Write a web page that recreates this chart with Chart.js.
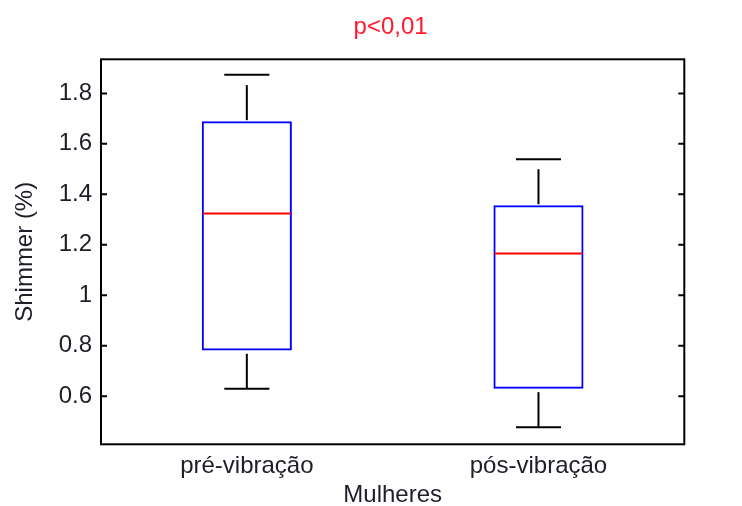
<!DOCTYPE html>
<html>
<head>
<meta charset="utf-8">
<script src="https://cdn.jsdelivr.net/npm/chart.js@4/dist/chart.umd.min.js"></script>
<style>
  html, body { margin: 0; padding: 0; background: #ffffff; }
  #wrap { width: 742px; height: 506px; }
</style>
</head>
<body>
<div id="wrap"><canvas id="c" width="742" height="506"></canvas></div>
<script>
// Shimmer (%) before and after vibration, women
const categories = ['pré-vibração', 'pós-vibração'];
const lowerQuartile = [0.782, 0.630];
const upperQuartile = [1.690, 1.357];
const medians = [1.324, 1.166];
const whiskerLow = [0.630, 0.478];
const whiskerHigh = [1.874, 1.539];
const yTickValues = [0.6, 0.8, 1, 1.2, 1.4, 1.6, 1.8];
const yTickLabels = ['0.6', '0.8', '1', '1.2', '1.4', '1.6', '1.8'];
const titleText = 'p<0,01';

const FONT = 'Liberation Sans, Arial, Helvetica, sans-serif';
const TEXT = '#1e1e28';

// medians, dashed whiskers with caps, frame, inward ticks and the title over the axes
const boxExtras = {
  id: 'boxExtras',
  afterDatasetsDraw(chart) {
    const ctx = chart.ctx;
    const x = chart.scales.x, y = chart.scales.y;
    const area = chart.chartArea;
    const meta = chart.getDatasetMeta(0);
    ctx.save();
    ctx.lineCap = 'butt';
    categories.forEach((cat, i) => {
      const bar = meta.data[i];
      const cx = x.getPixelForValue(i);
      const half = bar.width / 2 - 1;
      const capHalf = bar.width / 4;
      // median
      ctx.strokeStyle = '#ff0000';
      ctx.lineWidth = 2;
      ctx.setLineDash([]);
      const ym = y.getPixelForValue(medians[i]);
      ctx.beginPath();
      ctx.moveTo(cx - half, ym);
      ctx.lineTo(cx + half, ym);
      ctx.stroke();
      // whiskers (dashed, drawn upward)
      ctx.strokeStyle = '#000000';
      ctx.setLineDash([35, 12]);
      ctx.beginPath();
      ctx.moveTo(cx, y.getPixelForValue(upperQuartile[i]) - 1);
      ctx.lineTo(cx, y.getPixelForValue(whiskerHigh[i]));
      ctx.stroke();
      ctx.beginPath();
      ctx.moveTo(cx, y.getPixelForValue(whiskerLow[i]));
      ctx.lineTo(cx, y.getPixelForValue(lowerQuartile[i]) + 1);
      ctx.stroke();
      // caps
      ctx.setLineDash([]);
      [whiskerHigh[i], whiskerLow[i]].forEach(v => {
        const yy = y.getPixelForValue(v);
        ctx.beginPath();
        ctx.moveTo(cx - capHalf, yy);
        ctx.lineTo(cx + capHalf, yy);
        ctx.stroke();
      });
    });
    // axes frame
    ctx.strokeStyle = '#000000';
    ctx.lineWidth = 2;
    ctx.strokeRect(area.left, area.top, area.right - area.left, area.bottom - area.top);
    // inward y ticks on both sides
    yTickValues.forEach(v => {
      const yy = y.getPixelForValue(v);
      ctx.beginPath();
      ctx.moveTo(area.left, yy);
      ctx.lineTo(area.left + 6, yy);
      ctx.moveTo(area.right, yy);
      ctx.lineTo(area.right - 6, yy);
      ctx.stroke();
    });
    // title centred over the axes
    ctx.fillStyle = '#ff1a2e';
    ctx.font = '24px ' + FONT;
    ctx.textAlign = 'center';
    ctx.textBaseline = 'middle';
    ctx.fillText(titleText, (area.left + area.right) / 2 - 2, 27);
    ctx.restore();
  }
};

new Chart(document.getElementById('c'), {
  type: 'bar',
  data: {
    labels: categories,
    datasets: [{
      data: categories.map((c, i) => [lowerQuartile[i], upperQuartile[i]]),
      backgroundColor: 'rgba(0,0,0,0)',
      borderColor: '#0000ff',
      borderWidth: 2,
      borderSkipped: false,
      categoryPercentage: 1,
      barPercentage: 0.309
    }]
  },
  options: {
    responsive: false,
    animation: false,
    events: [],
    layout: { padding: { left: 0, right: 57.7, top: 59.3, bottom: 0 } },
    plugins: {
      legend: { display: false },
      tooltip: { enabled: false },
      title: { display: false }
    },
    scales: {
      x: {
        type: 'category',
        offset: true,
        grid: { display: false, drawTicks: false },
        border: { display: false },
        ticks: { color: TEXT, font: { family: FONT, size: 24 }, padding: 8, maxRotation: 0 },
        title: {
          display: true,
          text: 'Mulheres',
          color: TEXT,
          font: { family: FONT, size: 24, lineHeight: 1 },
          padding: { top: 0, bottom: -1 }
        },
        afterFit(scale) { scale.height = 61.7; }
      },
      y: {
        type: 'linear',
        min: 0.41,
        max: 1.935,
        grid: { display: false, drawTicks: false },
        border: { display: false },
        afterBuildTicks(scale) { scale.ticks = yTickValues.map(v => ({ value: v })); },
        ticks: {
          color: TEXT,
          font: { family: FONT, size: 24 },
          padding: 9,
          callback(value) { return yTickLabels[yTickValues.indexOf(value)]; }
        },
        title: {
          display: true,
          text: 'Shimmer (%)',
          color: TEXT,
          font: { family: FONT, size: 24, lineHeight: 1.2 },
          padding: { top: 10.6, bottom: 0 }
        },
        afterFit(scale) { scale.width = 101; }
      }
    }
  },
  plugins: [boxExtras]
});
</script>
</body>
</html>
